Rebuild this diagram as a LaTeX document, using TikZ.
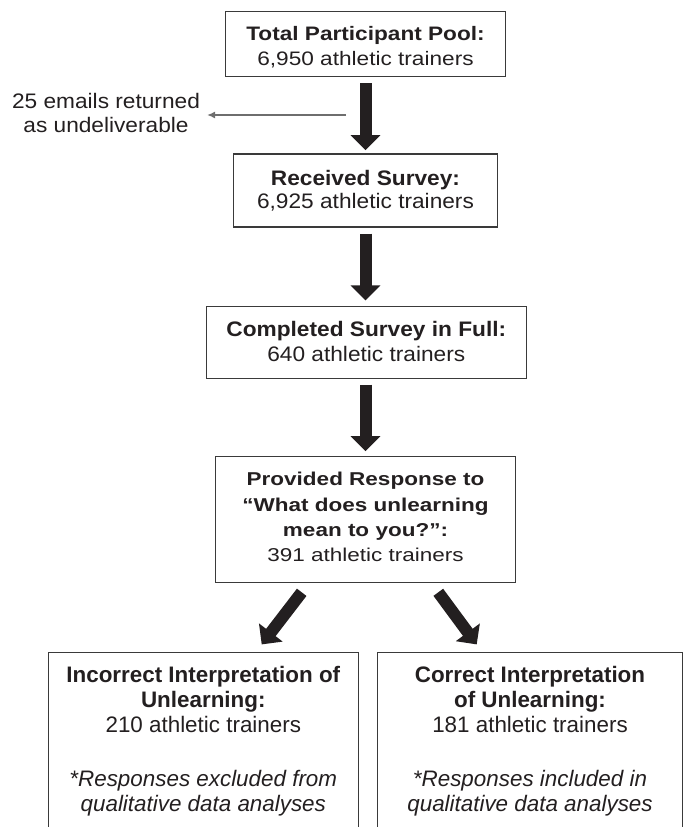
\documentclass[tikz,border=0pt]{standalone}
\usepackage{fontspec}
\setmainfont{Liberation Sans}
\newfontfamily\fT[FakeStretch=1.16]{Liberation Sans}
\newfontfamily\fM[FakeStretch=1.08]{Liberation Sans}
\newfontfamily\fP[FakeStretch=1.21]{Liberation Sans}
\newfontfamily\fB{Liberation Sans}
\usetikzlibrary{arrows.meta,calc}
\definecolor{ink}{HTML}{231F20}
\definecolor{frame}{HTML}{3A3A3A}
\definecolor{thinline}{HTML}{6E6E6E}
\begin{document}
\begin{tikzpicture}[x=1pt,y=-1pt,
  box/.style={draw=frame, line width=1.2pt, inner sep=0pt},
  txt/.style={anchor=base, inner sep=0pt, text=ink},
  bigarrow/.style={draw=ink, line width=12pt, -{Triangle[width=29pt,length=15pt]}},
  thinarrow/.style={draw=thinline, line width=1.3pt, -{Latex[length=8pt,width=7pt]}}]
\useasboundingbox (0,0) rectangle (686,827);
\clip (0,0) rectangle (686,827);

% boxes
\node[box, minimum width=279.3pt, minimum height=65pt] (n1) at (365.5,44.2) {};
\node[box, minimum width=264pt, minimum height=73pt] (n2) at (365.5,190.5) {};
\node[box, minimum width=320pt, minimum height=72pt] (n3) at (366.3,342.7) {};
\node[box, minimum width=300pt, minimum height=126pt] (n4) at (365.5,519.7) {};
\node[box, minimum width=310pt, minimum height=200pt] (n5) at (203.3,752.3) {};
\node[box, minimum width=305.4pt, minimum height=200pt] (n6) at (530,752.3) {};

% texts
\node[txt] (t1) at (365.5,40) {\fT\fontsize{19.5}{25}\selectfont
  \begin{tabular}[t]{@{}c@{}}\bfseries Total Participant Pool:\\ 6,950 athletic trainers\end{tabular}};
\node[txt] (t2) at (365.5,185) {\fM\fontsize{21}{23.3}\selectfont
  \begin{tabular}[t]{@{}c@{}}\bfseries Received Survey:\\ 6,925 athletic trainers\end{tabular}};
\node[txt] (t3) at (366.3,336) {\fM\fontsize{21}{25.7}\selectfont
  \begin{tabular}[t]{@{}c@{}}\bfseries Completed Survey in Full:\\ 640 athletic trainers\end{tabular}};
\node[txt] (t4) at (365.5,485.7) {\fP\fontsize{18.6}{25.3}\selectfont
  \begin{tabular}[t]{@{}c@{}}\bfseries Provided Response to\\ \bfseries “What does unlearning\\ \bfseries mean to you?”:\\ 391 athletic trainers\end{tabular}};
\node[txt] (t5) at (203.3,682.7) {\fB\fontsize{22.4}{25}\selectfont
  \begin{tabular}[t]{@{}c@{}}\bfseries Incorrect Interpretation of\\ \bfseries Unlearning:\\ 210 athletic trainers\\[28.7pt] \itshape *Responses excluded from\\ \itshape qualitative data analyses\end{tabular}};
\node[txt] (t6) at (530,682.7) {\fB\fontsize{22.4}{25}\selectfont
  \begin{tabular}[t]{@{}c@{}}\bfseries Correct Interpretation\\ \bfseries of Unlearning:\\ 181 athletic trainers\\[28.7pt] \itshape *Responses included in\\ \itshape qualitative data analyses\end{tabular}};
\node[txt] (emails) at (106,108.3) {\fM\fontsize{21}{23.7}\selectfont
  \begin{tabular}[t]{@{}c@{}}25 emails returned\\ as undeliverable\end{tabular}};

% big arrows
\draw[bigarrow, shorten <=6pt, shorten >=3.3pt] (n1.south) -- (n2.north);
\draw[bigarrow, shorten <=6pt, shorten >=5.7pt] (n2.south) -- (n3.north -| n2.south);
\draw[bigarrow, shorten <=5.3pt, shorten >=5pt] (n3.south -| n4.north) -- (n4.north);
\draw[bigarrow] ([xshift=-63.8pt,yshift=-9pt]n4.south) -- ([xshift=58.4pt,yshift=7.3pt]n5.north);
\draw[bigarrow] ([xshift=72.8pt,yshift=-9pt]n4.south) -- ([xshift=-53.3pt,yshift=7.3pt]n6.north);

% thin side arrow
\coordinate (split) at (346,115);
\draw[thinarrow, shorten >=7pt] (split) -- (split -| emails.east);
\end{tikzpicture}
\end{document}
